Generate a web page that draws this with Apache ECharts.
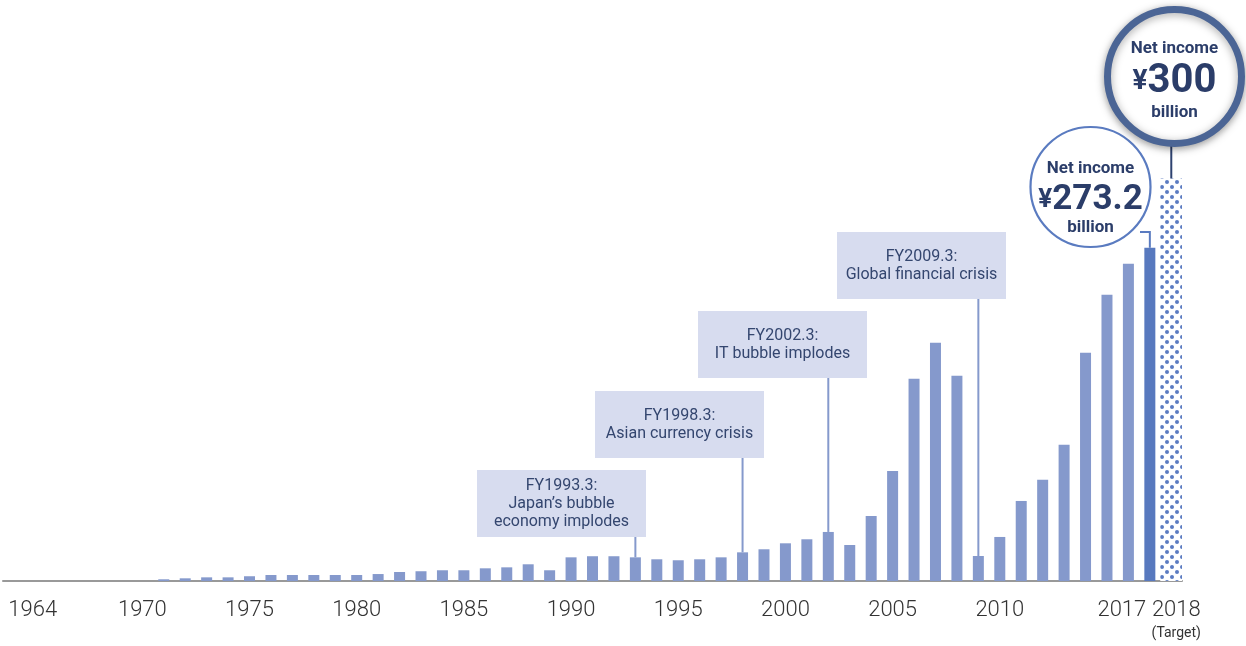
<!DOCTYPE html>
<html>
<head>
<meta charset="utf-8">
<script src="https://cdn.jsdelivr.net/npm/echarts@6/dist/echarts.min.js"></script>
<style>
html,body{margin:0;padding:0;background:#fff;}
#main{width:1246px;height:646px;}
</style>
</head>
<body>
<div id="main"></div>
<script>
// fiscal years 1964 .. 2018
var years = [];
for (var y = 1964; y <= 2018; y++) years.push(String(y));

// net income, billion yen (1964 .. 2017)
var netIncome = [0, 0, 0, 0, 0, 0, 0,
  1.4, 2.2, 3.0, 3.0, 3.9, 4.9, 4.9, 4.9, 4.9, 4.9, 5.7, 7.4, 8.0, 8.8, 8.8, 10.4, 11.2, 13.7, 8.8,
  19.4, 20.3, 20.3, 19.4, 17.8, 17.0, 17.8, 19.4, 23.5, 26.0,
  30.9, 34.2, 40.2, 29.5, 53.3, 90.2, 165.7, 195.3, 168.2, 20.5,
  36.1, 65.6, 82.9, 111.6, 187.1, 234.6, 260.1, 273.2];
var latestYear = '2017';

// target bar (labelled 300, drawn taller in the picture)
var targetYear = '2018';
var targetValue = 330;

var labelYears = ['1964', '1970', '1975', '1980', '1985', '1990', '1995', '2000', '2005', '2010', '2017', '2018'];

var annotYears = ['1993', '1998', '2002', '2009'];
var annotTexts = [
  'FY1993.3:\nJapan\u2019s bubble\neconomy implodes',
  'FY1998.3:\nAsian currency crisis',
  'FY2002.3:\nIT bubble implodes',
  'FY2009.3:\nGlobal financial crisis'
];
// box layout (top-left corners)
var annotBoxX = [477, 595, 698, 837];
var annotBoxY = [470, 391, 311, 232];

var navy = '#2b3d69';
var barColor = '#8599cc';

var chart = echarts.init(document.getElementById('main'));

var mainData = years.map(function (yr, i) {
  if (yr === targetYear) return '-';
  if (yr === latestYear) return {value: netIncome[i], itemStyle: {color: '#5879be'}};
  return netIncome[i];
});
var targetData = years.map(function (yr) {
  return yr === targetYear ? targetValue : '-';
});

var option = {
  animation: false,
  grid: {left: 3, right: 64, top: 93, bottom: 65, containLabel: false, outerBoundsMode: 'none'},
  xAxis: [{
    type: 'category',
    data: years,
    axisLine: {lineStyle: {color: '#999', width: 2}},
    axisTick: {show: false},
    axisLabel: {
      interval: 0,
      margin: 16,
      color: '#333',
      formatter: function (v) {
        if (labelYears.indexOf(v) < 0) return '';
        if (v === '1964') return '{l|' + v + '}';
        if (v === '2017') return '{r|' + v + '}';
        if (v === '2018') return '{t|' + v + '}\n{s|(Target)}';
        return '{n|' + v + '}';
      },
      rich: {
        n: {fontFamily: 'Roboto', fontWeight: 300, fontSize: 22, lineHeight: 26, color: '#333'},
        l: {fontFamily: 'Roboto', fontWeight: 300, fontSize: 22, lineHeight: 26, color: '#333', padding: [0, 0, 0, 38]},
        r: {fontFamily: 'Roboto', fontWeight: 300, fontSize: 22, lineHeight: 26, color: '#333', padding: [0, 56, 0, 0]},
        t: {fontFamily: 'Roboto', fontWeight: 300, fontSize: 22, lineHeight: 26, color: '#333', padding: [0, 0, 0, 10]},
        s: {fontFamily: 'Roboto', fontSize: 14, lineHeight: 20, color: '#333', padding: [0, 0, 0, 10]}
      }
    }
  }, {
    type: 'category',
    data: years,
    show: false
  }],
  yAxis: {type: 'value', min: 0, max: 400, show: false},
  series: [{
    type: 'bar',
    data: mainData,
    barWidth: 11,
    itemStyle: {color: barColor}
  }, {
    type: 'bar',
    xAxisIndex: 1,
    data: targetData,
    barWidth: 22,
    itemStyle: {
      color: '#fff',
      decal: {
        symbol: 'circle',
        symbolSize: 1,
        color: '#5b7bc1',
        dashArrayX: [[4, 6], [0, 5, 4, 1]],
        dashArrayY: [4, 1],
        rotation: 0
      }
    }
  }]
};
chart.setOption(option);

function px(year, value) {
  return chart.convertToPixel({xAxisIndex: 0, yAxisIndex: 0}, [year, value]);
}

var graphics = [];

// crisis annotations
annotYears.forEach(function (yr, i) {
  var bx = annotBoxX[i], by = annotBoxY[i];
  var p = px(yr, netIncome[years.indexOf(yr)]);
  graphics.push({type: 'line', z: 5,
    shape: {x1: p[0], y1: by + 67, x2: p[0], y2: p[1]},
    style: {stroke: barColor, lineWidth: 2}});
  graphics.push({type: 'rect', z: 5,
    shape: {x: bx, y: by, width: 169, height: 67},
    style: {fill: '#d7dcef'}});
  graphics.push({type: 'text', z: 6, x: bx + 84.5, y: by + 34,
    style: {text: annotTexts[i], fill: '#34466f', fontFamily: 'Roboto', fontSize: 16,
      lineHeight: 18, align: 'center', verticalAlign: 'middle'}});
});

// latest-year bubble
var pl = px(latestYear, netIncome[years.indexOf(latestYear)]);
graphics.push({type: 'polyline', z: 5,
  shape: {points: [[1140, 232], [pl[0], 232], [pl[0], pl[1]]]},
  style: {stroke: '#5a7bc0', lineWidth: 2, fill: null}});
graphics.push({type: 'circle', z: 6,
  shape: {cx: 1090.5, cy: 187, r: 60},
  style: {fill: '#fff', stroke: '#5a7bc0', lineWidth: 2.2}});
graphics.push({type: 'text', z: 7, x: 1090.5, y: 169,
  style: {text: 'Net income', fill: navy, fontFamily: 'Roboto', fontWeight: 'bold', fontSize: 17,
    align: 'center', verticalAlign: 'middle'}});
graphics.push({type: 'text', z: 7, x: 1090.5, y: 200,
  style: {text: '{y|\u00a5}{n|' + netIncome[years.indexOf(latestYear)] + '}',
    align: 'center', verticalAlign: 'middle',
    rich: {
      y: {fill: navy, fontFamily: 'Roboto', fontWeight: 'bold', fontSize: 26},
      n: {fill: navy, fontFamily: 'Roboto', fontWeight: 'bold', fontSize: 35}
    }}});
graphics.push({type: 'text', z: 7, x: 1090.5, y: 228,
  style: {text: 'billion', fill: navy, fontFamily: 'Roboto', fontWeight: 'bold', fontSize: 17,
    align: 'center', verticalAlign: 'middle'}});

// target bubble
var pt = px(targetYear, targetValue);
graphics.push({type: 'line', z: 5,
  shape: {x1: pt[0], y1: 146, x2: pt[0], y2: pt[1]},
  style: {stroke: '#2e4270', lineWidth: 2}});
graphics.push({type: 'circle', z: 6,
  shape: {cx: 1174.5, cy: 76.5, r: 67},
  style: {fill: '#fff', stroke: '#4b6595', lineWidth: 7,
    shadowBlur: 8, shadowColor: 'rgba(0,0,0,0.35)', shadowOffsetY: 2}});
graphics.push({type: 'text', z: 7, x: 1174.5, y: 49,
  style: {text: 'Net income', fill: navy, fontFamily: 'Roboto', fontWeight: 'bold', fontSize: 17,
    align: 'center', verticalAlign: 'middle'}});
graphics.push({type: 'text', z: 7, x: 1174.5, y: 82,
  style: {text: '{y|\u00a5}{n|300}',
    align: 'center', verticalAlign: 'middle',
    rich: {
      y: {fill: navy, fontFamily: 'Roboto', fontWeight: 'bold', fontSize: 28},
      n: {fill: navy, fontFamily: 'Roboto', fontWeight: 'bold', fontSize: 40}
    }}});
graphics.push({type: 'text', z: 7, x: 1174.5, y: 113,
  style: {text: 'billion', fill: navy, fontFamily: 'Roboto', fontWeight: 'bold', fontSize: 17,
    align: 'center', verticalAlign: 'middle'}});

chart.setOption({graphic: graphics});
</script>
</body>
</html>
